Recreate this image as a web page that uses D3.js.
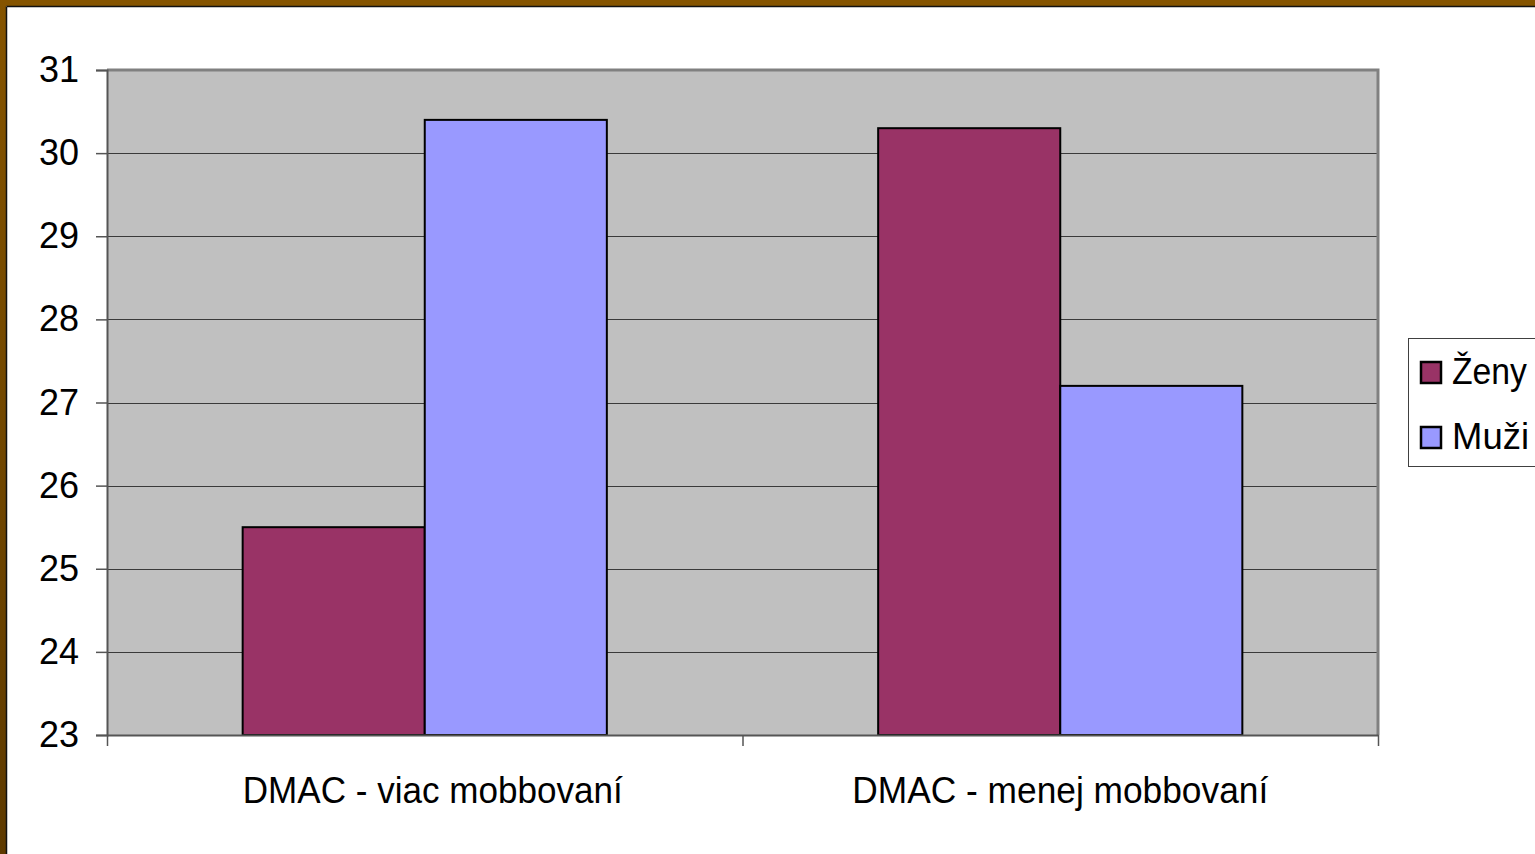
<!DOCTYPE html>
<html>
<head>
<meta charset="utf-8">
<script src="https://cdn.jsdelivr.net/npm/d3@7"></script>
<style>
  html, body { margin: 0; padding: 0; background: #fff; overflow: hidden; }
  svg { display: block; }
</style>
</head>
<body>
<svg id="chart"></svg>
<script>
const categories = ["DMAC - viac mobbovaní", "DMAC - menej mobbovaní"];
const seriesNames = ["Ženy", "Muži"];
const zenyValues = [25.5, 30.3];
const muziValues = [30.4, 27.2];
const yTicks = [23, 24, 25, 26, 27, 28, 29, 30, 31];
const seriesColors = ["#993366", "#9999ff"];

const width = 1535;
const height = 854;
const plot = { left: 107, right: 1378, top: 70, bottom: 735 };
const font = "'Liberation Sans', Arial, sans-serif";

const data = categories.map((c, i) => ({
  category: c,
  values: [
    { series: seriesNames[0], value: zenyValues[i] },
    { series: seriesNames[1], value: muziValues[i] }
  ]
}));

const svg = d3.select("#chart")
  .attr("width", width)
  .attr("height", height);

// frame border
const defs = svg.append("defs");
const grad = defs.append("linearGradient")
  .attr("id", "frameGrad")
  .attr("x1", 0).attr("y1", 0).attr("x2", 0).attr("y2", 1);
grad.append("stop").attr("offset", "0%").attr("stop-color", "#855400");
grad.append("stop").attr("offset", "100%").attr("stop-color", "#5e3a00");

svg.append("rect").attr("x", 0).attr("y", 0).attr("width", width).attr("height", 6).attr("fill", "#855400");
svg.append("rect").attr("x", 0).attr("y", 0).attr("width", 6).attr("height", height).attr("fill", "url(#frameGrad)");
svg.append("line").attr("x1", 6.5).attr("x2", width).attr("y1", 6.5).attr("y2", 6.5).attr("stroke", "#111").attr("stroke-width", 1.5);
svg.append("line").attr("x1", 6.5).attr("x2", 6.5).attr("y1", 6.5).attr("y2", height).attr("stroke", "#111").attr("stroke-width", 1.5);

const y = d3.scaleLinear()
  .domain([23, 31])
  .range([plot.bottom, plot.top]);

const x0 = d3.scaleBand()
  .domain(categories)
  .range([plot.left, plot.right])
  .padding(0);

const x1 = d3.scaleBand()
  .domain(seriesNames)
  .range([0, x0.bandwidth()])
  .paddingInner(0)
  .paddingOuter(0.745);

const color = d3.scaleOrdinal().domain(seriesNames).range(seriesColors);

// plot background
svg.append("rect")
  .attr("x", plot.left)
  .attr("y", plot.top)
  .attr("width", plot.right - plot.left)
  .attr("height", plot.bottom - plot.top)
  .attr("fill", "#c0c0c0");

// gridlines
svg.append("g")
  .selectAll("line")
  .data(yTicks.slice(1, -1))
  .join("line")
  .attr("x1", plot.left)
  .attr("x2", plot.right)
  .attr("y1", d => Math.round(y(d)) + 0.5)
  .attr("y2", d => Math.round(y(d)) + 0.5)
  .attr("stroke", "#3a3a3a")
  .attr("stroke-width", 1);

// plot border (top and right)
svg.append("path")
  .attr("d", `M${plot.left},${plot.top} H${plot.right} V${plot.bottom}`)
  .attr("fill", "none")
  .attr("stroke", "#808080")
  .attr("stroke-width", 3);

// bars
svg.append("g")
  .selectAll("g")
  .data(data)
  .join("g")
  .attr("transform", d => `translate(${x0(d.category)},0)`)
  .selectAll("rect")
  .data(d => d.values)
  .join("rect")
  .attr("x", d => x1(d.series))
  .attr("y", d => y(d.value))
  .attr("width", x1.bandwidth())
  .attr("height", d => plot.bottom - y(d.value))
  .attr("fill", d => color(d.series))
  .attr("stroke", "#000")
  .attr("stroke-width", 2);

// y axis
const yAxis = svg.append("g")
  .attr("transform", `translate(${plot.left},0)`)
  .call(d3.axisLeft(y).tickValues(yTicks).tickSize(11).tickPadding(17).tickFormat(d3.format("d")));
yAxis.select(".domain").attr("stroke", "#555").attr("stroke-width", 2);
yAxis.selectAll(".tick line").attr("stroke", "#555").attr("stroke-width", 1.5);
yAxis.selectAll(".tick text")
  .attr("fill", "#000")
  .style("font-family", font)
  .style("font-size", "36px")
  .attr("dy", "0.32em");

// x axis
const xAxis = svg.append("g")
  .attr("transform", `translate(0,${plot.bottom})`)
  .call(d3.axisBottom(x0).tickSize(0).tickPadding(42));
xAxis.select(".domain").attr("stroke", "#555").attr("stroke-width", 2);
xAxis.selectAll(".tick text")
  .attr("fill", "#000")
  .style("font-family", font)
  .style("font-size", "36px")
  .attr("dx", (d, i) => i === 0 ? 8 : 0)
  .attr("textLength", (d, i) => i === 0 ? 380 : 416)
  .attr("lengthAdjust", "spacingAndGlyphs");

// category separators
svg.append("g")
  .selectAll("line")
  .data([...categories.map(c => x0(c)), plot.right])
  .join("line")
  .attr("x1", d => d + 0.5)
  .attr("x2", d => d + 0.5)
  .attr("y1", plot.bottom)
  .attr("y2", plot.bottom + 11)
  .attr("stroke", "#555")
  .attr("stroke-width", 1.5);

// legend
const legend = svg.append("g").attr("transform", "translate(1408,338)");
legend.append("rect")
  .attr("x", 0.5)
  .attr("y", 0.5)
  .attr("width", 140)
  .attr("height", 128)
  .attr("fill", "#fff")
  .attr("stroke", "#404040")
  .attr("stroke-width", 1);

const legendItems = legend.selectAll(".item")
  .data(seriesNames)
  .join("g")
  .attr("class", "item")
  .attr("transform", (d, i) => `translate(13,${24 + i * 65})`);

legendItems.append("rect")
  .attr("width", 20)
  .attr("height", 21)
  .attr("fill", d => color(d))
  .attr("stroke", "#000")
  .attr("stroke-width", 2.5);

legendItems.append("text")
  .attr("x", 31)
  .attr("y", 22)
  .style("font-family", font)
  .style("font-size", "36px")
  .attr("fill", "#000")
  .attr("textLength", (d, i) => i === 0 ? 75 : 77)
  .attr("lengthAdjust", "spacingAndGlyphs")
  .text(d => d);
</script>
</body>
</html>
